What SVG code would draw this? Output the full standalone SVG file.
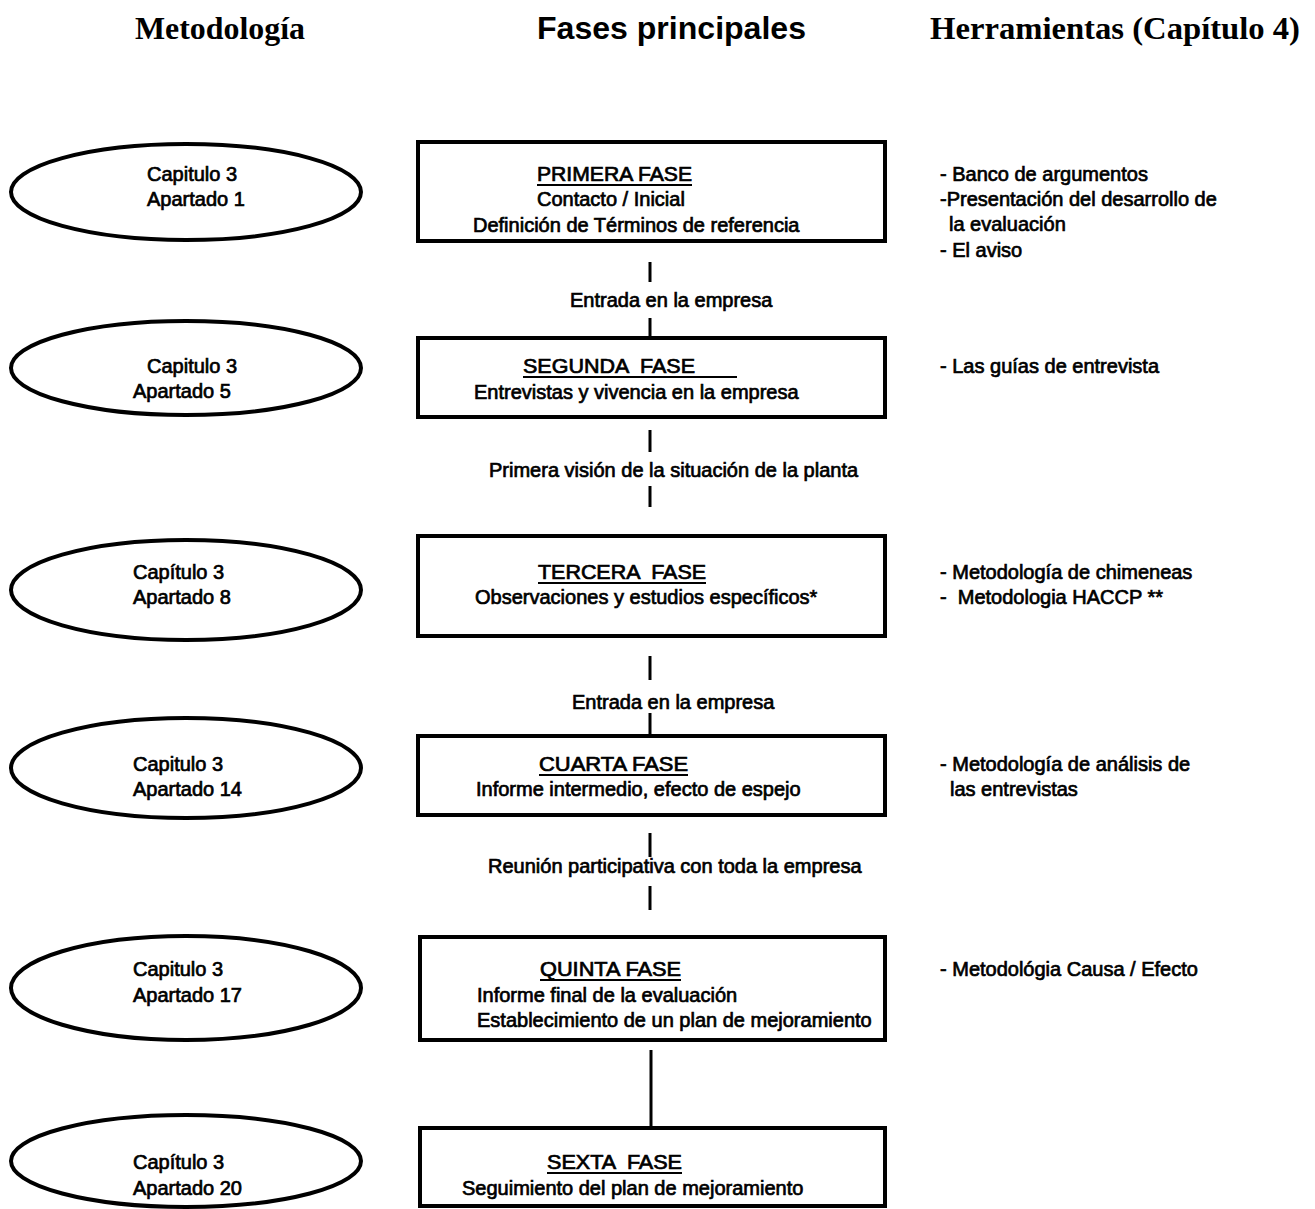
<svg xmlns="http://www.w3.org/2000/svg" width="1315" height="1209" viewBox="0 0 1315 1209">
<style>
.bg{fill:#fff}
.t{font-family:"Liberation Sans",Arial,sans-serif;font-size:20px;fill:#000;stroke:#000;stroke-width:0.7}
.hs{font-family:"Liberation Sans",Arial,sans-serif;font-size:31px;font-weight:bold;fill:#000}
.hr{font-family:"Liberation Serif","Times New Roman",serif;font-size:31px;font-weight:bold;fill:#000}
.box{fill:#fff;stroke:#000;stroke-width:4}
.ell{fill:#fff;stroke:#000;stroke-width:4}
.ul{stroke:#000;stroke-width:2}
.con{stroke:#000;stroke-width:3;fill:none}
</style>
<rect class="bg" x="0" y="0" width="1315" height="1209"/>

<g id="headers">
<text class="hr" x="135" y="39" textLength="170" lengthAdjust="spacingAndGlyphs">Metodología</text>
<text class="hs" x="537" y="39" textLength="269" lengthAdjust="spacingAndGlyphs">Fases principales</text>
<text class="hr" x="930" y="39" textLength="370" lengthAdjust="spacingAndGlyphs">Herramientas (Capítulo 4)</text>
</g>

<g id="connectors">
<line class="con" x1="650" y1="262" x2="650" y2="282"/>
<line class="con" x1="650" y1="318" x2="650" y2="338"/>
<line class="con" x1="650" y1="430" x2="650" y2="452"/>
<line class="con" x1="650" y1="486" x2="650" y2="507"/>
<line class="con" x1="650" y1="656" x2="650" y2="680"/>
<line class="con" x1="650" y1="713" x2="650" y2="735"/>
<line class="con" x1="650" y1="833" x2="650" y2="857"/>
<line class="con" x1="650" y1="886" x2="650" y2="910"/>
<line class="con" x1="651" y1="1050" x2="651" y2="1128"/>
<text class="t" x="570" y="307">Entrada en la empresa</text>
<text class="t" x="489" y="477">Primera visión de la situación de la planta</text>
<text class="t" x="572" y="709">Entrada en la empresa</text>
<text class="t" x="488" y="873">Reunión participativa con toda la empresa</text>
</g>

<g id="m1">
<ellipse class="ell" cx="186" cy="192" rx="175" ry="48"/>
<text class="t" x="147" y="181">Capitulo 3</text>
<text class="t" x="147" y="206">Apartado 1</text>
</g>
<g id="m2">
<ellipse class="ell" cx="186" cy="368" rx="175" ry="47"/>
<text class="t" x="147" y="373">Capitulo 3</text>
<text class="t" x="133" y="398">Apartado 5</text>
</g>
<g id="m3">
<ellipse class="ell" cx="186" cy="590" rx="175" ry="50"/>
<text class="t" x="133" y="579">Capítulo 3</text>
<text class="t" x="133" y="604">Apartado 8</text>
</g>
<g id="m4">
<ellipse class="ell" cx="186" cy="768" rx="175" ry="50"/>
<text class="t" x="133" y="771">Capitulo 3</text>
<text class="t" x="133" y="796">Apartado 14</text>
</g>
<g id="m5">
<ellipse class="ell" cx="186" cy="988" rx="175" ry="52"/>
<text class="t" x="133" y="976">Capitulo 3</text>
<text class="t" x="133" y="1002">Apartado 17</text>
</g>
<g id="m6">
<ellipse class="ell" cx="186" cy="1161" rx="175" ry="46"/>
<text class="t" x="133" y="1169">Capítulo 3</text>
<text class="t" x="133" y="1195">Apartado 20</text>
</g>

<g id="f1">
<rect class="box" x="418" y="142" width="467" height="99"/>
<text class="t" x="537" y="181" textLength="155" lengthAdjust="spacingAndGlyphs">PRIMERA FASE</text>
<line class="ul" x1="537" y1="185" x2="692" y2="185"/>
<text class="t" x="537" y="206">Contacto / Inicial</text>
<text class="t" x="473" y="232">Definición de Términos de referencia</text>
</g>
<g id="f2">
<rect class="box" x="418" y="338" width="467" height="79"/>
<text class="t" x="523" y="373" xml:space="preserve" textLength="172" lengthAdjust="spacingAndGlyphs">SEGUNDA  FASE</text>
<line class="ul" x1="523" y1="377" x2="737" y2="377"/>
<text class="t" x="474" y="399">Entrevistas y vivencia en la empresa</text>
</g>
<g id="f3">
<rect class="box" x="418" y="536" width="467" height="100"/>
<text class="t" x="538" y="579" xml:space="preserve" textLength="168" lengthAdjust="spacingAndGlyphs">TERCERA  FASE</text>
<line class="ul" x1="538" y1="583" x2="706" y2="583"/>
<text class="t" x="475" y="604">Observaciones y estudios específicos*</text>
</g>
<g id="f4">
<rect class="box" x="418" y="736" width="467" height="79"/>
<text class="t" x="539" y="771" textLength="149" lengthAdjust="spacingAndGlyphs">CUARTA FASE</text>
<line class="ul" x1="539" y1="775" x2="688" y2="775"/>
<text class="t" x="476" y="796">Informe intermedio, efecto de espejo</text>
</g>
<g id="f5">
<rect class="box" x="420" y="937" width="465" height="103"/>
<text class="t" x="540" y="976" textLength="141" lengthAdjust="spacingAndGlyphs">QUINTA FASE</text>
<line class="ul" x1="540" y1="980" x2="681" y2="980"/>
<text class="t" x="477" y="1002">Informe final de la evaluación</text>
<text class="t" x="477" y="1027">Establecimiento de un plan de mejoramiento</text>
</g>
<g id="f6">
<rect class="box" x="420" y="1128" width="465" height="78"/>
<text class="t" x="547" y="1169" xml:space="preserve" textLength="135" lengthAdjust="spacingAndGlyphs">SEXTA  FASE</text>
<line class="ul" x1="547" y1="1173" x2="682" y2="1173"/>
<text class="t" x="462" y="1195">Seguimiento del plan de mejoramiento</text>
</g>

<g id="h1">
<text class="t" x="940" y="181">- Banco de argumentos</text>
<text class="t" x="940" y="206">-Presentación del desarrollo de</text>
<text class="t" x="949" y="231">la evaluación</text>
<text class="t" x="940" y="257">- El aviso</text>
</g>
<g id="h2">
<text class="t" x="940" y="373">- Las guías de entrevista</text>
</g>
<g id="h3">
<text class="t" x="940" y="579">- Metodología de chimeneas</text>
<text class="t" x="940" y="604" xml:space="preserve">-  Metodologia HACCP **</text>
</g>
<g id="h4">
<text class="t" x="940" y="771">- Metodología de análisis de</text>
<text class="t" x="950" y="796">las entrevistas</text>
</g>
<g id="h5">
<text class="t" x="940" y="976">- Metodológia Causa / Efecto</text>
</g>
</svg>
